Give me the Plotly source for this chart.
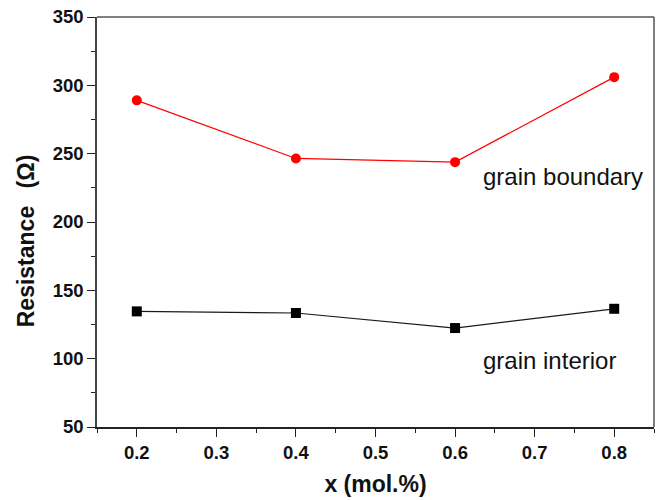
import plotly.graph_objects as go

x_vals = [0.2, 0.4, 0.6, 0.8]
grain_boundary = [289, 246.5, 243.8, 306]
grain_interior = [134.6, 133.4, 122.4, 136.5]
x_ticks = [0.2, 0.3, 0.4, 0.5, 0.6, 0.7, 0.8]
y_ticks = [50, 100, 150, 200, 250, 300, 350]

FONT = "Arial, Liberation Sans, Helvetica, sans-serif"

fig = go.Figure()
fig.add_trace(go.Scatter(
    x=x_vals, y=grain_boundary, mode="lines+markers",
    line=dict(color="#ff0000", width=1.2),
    marker=dict(symbol="circle", size=10, color="#ff0000"),
    showlegend=False, cliponaxis=False,
))
fig.add_trace(go.Scatter(
    x=x_vals, y=grain_interior, mode="lines+markers",
    line=dict(color="#1a1a1a", width=1.2),
    marker=dict(symbol="square", size=10, color="#000000"),
    showlegend=False, cliponaxis=False,
))

fig.add_annotation(x=0.632, y=233, xref="x", yref="y", text="grain boundary",
                   showarrow=False, xanchor="left", yanchor="middle",
                   font=dict(family=FONT, size=24, color="#111111"))
fig.add_annotation(x=0.632, y=99, xref="x", yref="y", text="grain interior",
                   showarrow=False, xanchor="left", yanchor="middle",
                   font=dict(family=FONT, size=24, color="#111111"))

# y-axis title placed as in the reference (slightly below the axis centre)
fig.add_annotation(x=-0.126, y=0.455, xref="paper", yref="paper",
                   text="Resistance\u00a0\u00a0\u2009(\u03a9)", textangle=-90,
                   showarrow=False, xanchor="center", yanchor="middle",
                   font=dict(family=FONT, size=23, color="#111111", weight="bold"))

# top and right frame lines (lighter grey, as in the reference)
fig.add_shape(type="line", xref="paper", yref="paper", x0=0, x1=1, y0=1, y1=1,
              line=dict(color="#555555", width=1.5), layer="above")
fig.add_shape(type="line", xref="paper", yref="paper", x0=1, x1=1, y0=0, y1=1,
              line=dict(color="#555555", width=1.5), layer="above")

fig.update_xaxes(
    range=[0.15, 0.85], tickvals=x_ticks, ticktext=[f"{v:.1f}" for v in x_ticks],
    ticks="outside", ticklen=8, tickwidth=1.3, tickcolor="#222222",
    minor=dict(dtick=0.05, tick0=0.15, ticks="outside", ticklen=4, tickwidth=1.3, tickcolor="#222222"),
    showline=True, linecolor="#222222", linewidth=2, mirror=False,
    showgrid=False, zeroline=False, ticklabeloverflow="allow", automargin=False,
    tickfont=dict(family=FONT, size=18.5, color="#111111", weight="bold"),
    title=dict(text="x (mol.%)", font=dict(family=FONT, size=23, color="#111111", weight="bold"), standoff=14),
)
fig.update_yaxes(
    range=[50, 350], tickvals=y_ticks,
    ticks="outside", ticklen=8, tickwidth=1.3, tickcolor="#222222",
    minor=dict(dtick=25, tick0=50, ticks="outside", ticklen=4, tickwidth=1.3, tickcolor="#222222"),
    showline=True, linecolor="#444444", linewidth=1.5, mirror=False,
    showgrid=False, zeroline=False, ticklabeloverflow="allow", automargin=False,
    tickfont=dict(family=FONT, size=18.5, color="#111111", weight="bold"),
)

fig.update_layout(
    width=661, height=500,
    margin=dict(l=97, r=7, t=17, b=73),
    paper_bgcolor="white", plot_bgcolor="white",
    font=dict(family=FONT),
)

fig.write_html("out.html", config={"displayModeBar": False},
               post_script="document.body.style.margin='0px';")
